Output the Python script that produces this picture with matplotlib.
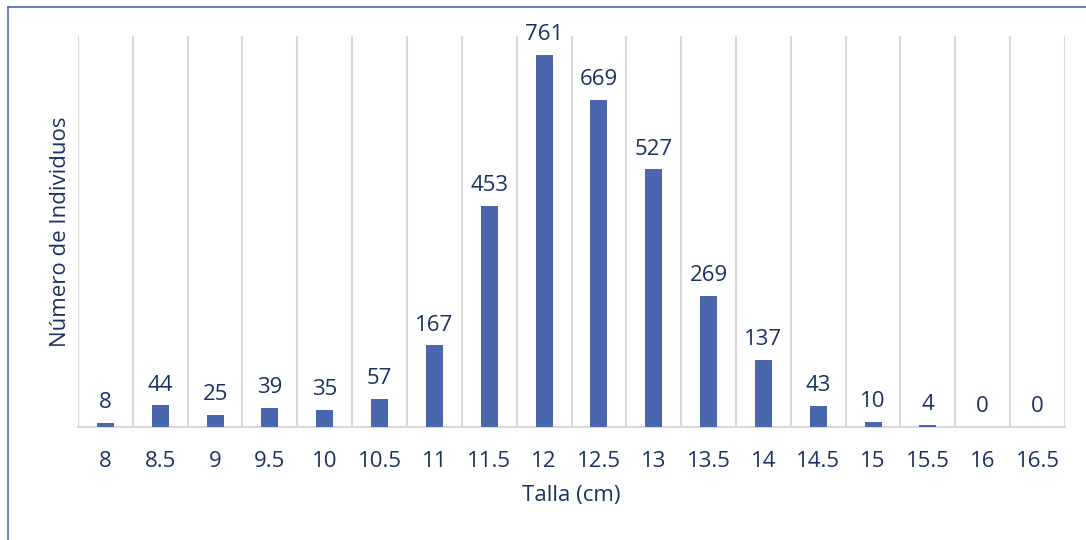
import numpy as np
from matplotlib import pyplot as plt

tallas = ["8", "8.5", "9", "9.5", "10", "10.5", "11", "11.5", "12", "12.5",
          "13", "13.5", "14", "14.5", "15", "15.5", "16", "16.5"]
individuos = [8, 44, 25, 39, 35, 57, 167, 453, 761, 669,
              527, 269, 137, 43, 10, 4, 0, 0]

BAR_COLOR = "#4a66ac"
TEXT_COLOR = "#1c3163"
GRID_COLOR = "#d9d9d9"
FS = 16

plt.rcParams["font.family"] = ["Open Sans", "DejaVu Sans"]

fig = plt.figure(figsize=(10.86, 5.4), dpi=100)
ax = fig.add_axes([78 / 1086, 113 / 540, (1065 - 78) / 1086, (427 - 36) / 540])

x = np.arange(len(tallas))
ax.bar(x, individuos, width=0.31, color=BAR_COLOR, zorder=3)
for xi, v in zip(x, individuos):
    ax.annotate(str(v), (xi, v), xytext=(0, 7), textcoords="offset points",
                ha="center", va="bottom", fontsize=FS, color=TEXT_COLOR)

ax.set_xlim(-0.5, len(tallas) - 0.5)
ax.set_ylim(0, 800)
for b in np.arange(-0.5, len(tallas), 1.0):
    ax.axvline(b, color=GRID_COLOR, lw=1.5, zorder=1)

ax.set_xticks(x)
ax.set_xticklabels(tallas, fontsize=FS, color=TEXT_COLOR)
ax.tick_params(axis="x", length=0, pad=17)
ax.set_yticks([])
for side in ["top", "right", "left"]:
    ax.spines[side].set_visible(False)
ax.spines["bottom"].set_color(GRID_COLOR)
ax.spines["bottom"].set_linewidth(1.5)

ax.set_xlabel("Talla (cm)", fontsize=FS, color=TEXT_COLOR, labelpad=10)
ax.set_ylabel("Número de Individuos", fontsize=FS, color=TEXT_COLOR, labelpad=5)

# chart frame (left and top edges visible)
fig.add_artist(plt.Line2D([8 / 1086, 8 / 1086], [0, 1 - 7 / 540], color="#4a6ab8", lw=1.2))
fig.add_artist(plt.Line2D([8 / 1086, 1], [1 - 7 / 540, 1 - 7 / 540], color="#4a6ab8", lw=1.2))

fig.savefig("out.png", dpi=100)
